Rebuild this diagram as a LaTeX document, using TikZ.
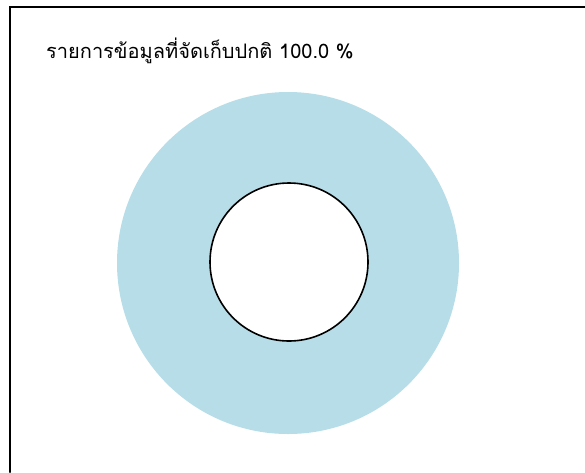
\documentclass[tikz,border=0pt]{standalone}
\usepackage{fontspec}
\usepackage{xcolor}
\usepackage{tkz-euclide}
\newfontfamily\thaifont[Script=Thai]{Loma}
\definecolor{ringblue}{RGB}{183,221,232}

\begin{document}
\begin{tikzpicture}[x=1pt,y=-1pt,frame/.style={line width=2pt,color=black},hole/.style={line width=1.6pt,color=black}]
   \useasboundingbox (0,0) rectangle (585,472);
   % fixed points
   \tkzDefPoint(10,472){P}
   \tkzDefPoint(10,7){Q}
   \tkzDefPoint(585,7){R}
   \tkzDefPoint(288,263){O}
   \tkzDefPoint(459,263){A}
   \tkzDefPoint(289,262){C}
   \tkzDefPoint(368,262){D}
   \tkzDefPoint(46,51){T}
   % drawing
   \tkzDrawPolySeg[frame](P,Q,R)
   \tkzFillCircle[color=ringblue](O,A)
   \tkzFillCircle[color=white](C,D)
   \tkzDrawCircle[hole](C,D)
   \tkzLabelPoint[right,inner sep=0pt,font=\fontsize{20}{24}\selectfont](T){\thaifont รายการข้อมูลที่จัดเก็บปกติ 100.0 \%}
\end{tikzpicture}
\end{document}
